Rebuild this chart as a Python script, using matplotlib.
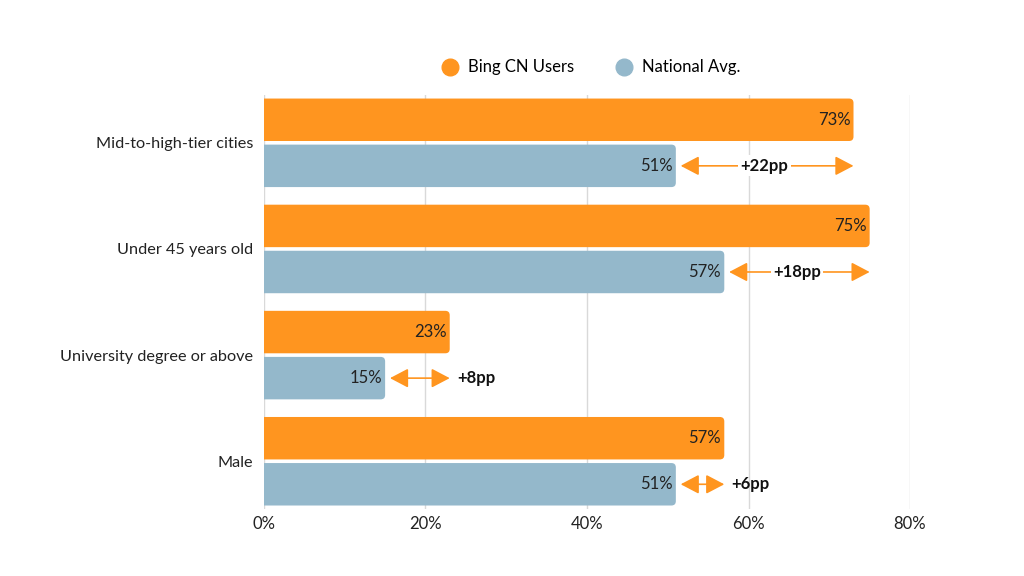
import matplotlib.pyplot as plt
from matplotlib.patches import FancyBboxPatch, FancyArrowPatch
from matplotlib.lines import Line2D

categories = ["Mid-to-high-tier cities", "Under 45 years old",
              "University degree or above", "Male"]
bing_users = [73, 75, 23, 57]
national_avg = [51, 57, 15, 51]
xticks = [0, 20, 40, 60, 80]

ORANGE = "#FF951F"
BLUE = "#94B8CB"

plt.rcParams["font.family"] = ["Lato", "DejaVu Sans"]

fig = plt.figure(figsize=(10.24, 5.76), dpi=100)
ax = fig.add_axes([0.2578, 0.1163, 0.8887 - 0.2578, 0.835 - 0.1163])

ypos = list(range(len(categories)))
off = 0.217
h = 0.40

bars_o = ax.barh([y - off for y in ypos], bing_users, height=h, color=ORANGE)
bars_b = ax.barh([y + off for y in ypos], national_avg, height=h, color=BLUE)

# swap plain bars for ones with rounded corners (left side is clipped at x=0)
for bar in list(bars_o) + list(bars_b):
    x0, y0 = bar.get_x(), bar.get_y()
    w, hh = bar.get_width(), bar.get_height()
    bar.set_visible(False)
    p = FancyBboxPatch((x0 - 1, y0), w + 1, hh,
                       boxstyle="round,pad=0,rounding_size=0.55",
                       mutation_aspect=0.075,
                       facecolor=bar.get_facecolor(), edgecolor="none",
                       zorder=3)
    ax.add_patch(p)

for y, o, b in zip(ypos, bing_users, national_avg):
    ax.text(o - 0.4, y - off, f"{o}%", ha="right", va="center",
            fontsize=12, color="#222222", zorder=4)
    ax.text(b - 0.4, y + off, f"{b}%", ha="right", va="center",
            fontsize=12, color="#222222", zorder=4)

    gap = o - b
    arr = FancyArrowPatch((b + 0.6, y + off), (o, y + off),
                          arrowstyle="<|-|>,head_length=0.8,head_width=0.42",
                          mutation_scale=14, color=ORANGE, lw=1.2,
                          shrinkA=0, shrinkB=0, zorder=4)
    ax.add_patch(arr)
    if gap >= 10:
        ax.text((o + b) / 2, y + off, f"+{gap}pp", ha="center", va="center",
                fontsize=12, fontweight="bold", color="#111111", zorder=5,
                bbox=dict(boxstyle="square,pad=0.15", fc="white", ec="none"))
    else:
        ax.text(o + 0.9, y + off, f"+{gap}pp", ha="left", va="center",
                fontsize=12, fontweight="bold", color="#111111", zorder=5)

ax.set_xlim(0, 80)
ax.set_ylim(3.45, -0.45)
ax.set_xticks(xticks)
ax.set_xticklabels([f"{t}%" for t in xticks])
ax.set_yticks(ypos)
ax.set_yticklabels(categories)
ax.tick_params(length=0, labelsize=12, colors="#222222")
ax.tick_params(axis="y", pad=8, labelsize=11.7)
ax.tick_params(axis="x", pad=5)
ax.grid(axis="x", color="#D9D9D9", lw=1)
ax.set_axisbelow(True)
for s in ax.spines.values():
    s.set_visible(False)
for lbl in ax.get_yticklabels():
    lbl.set_va("center_baseline")

handles = [Line2D([], [], marker="o", ls="", ms=12, color=ORANGE),
           Line2D([], [], marker="o", ls="", ms=12, color=BLUE)]
fig.legend(handles, ["Bing CN Users", "National Avg."], ncol=2,
           loc="center", bbox_to_anchor=(0.573, 0.883), frameon=False,
           fontsize=12, handletextpad=0.1, columnspacing=2.0)

fig.savefig("out.png", dpi=100)
